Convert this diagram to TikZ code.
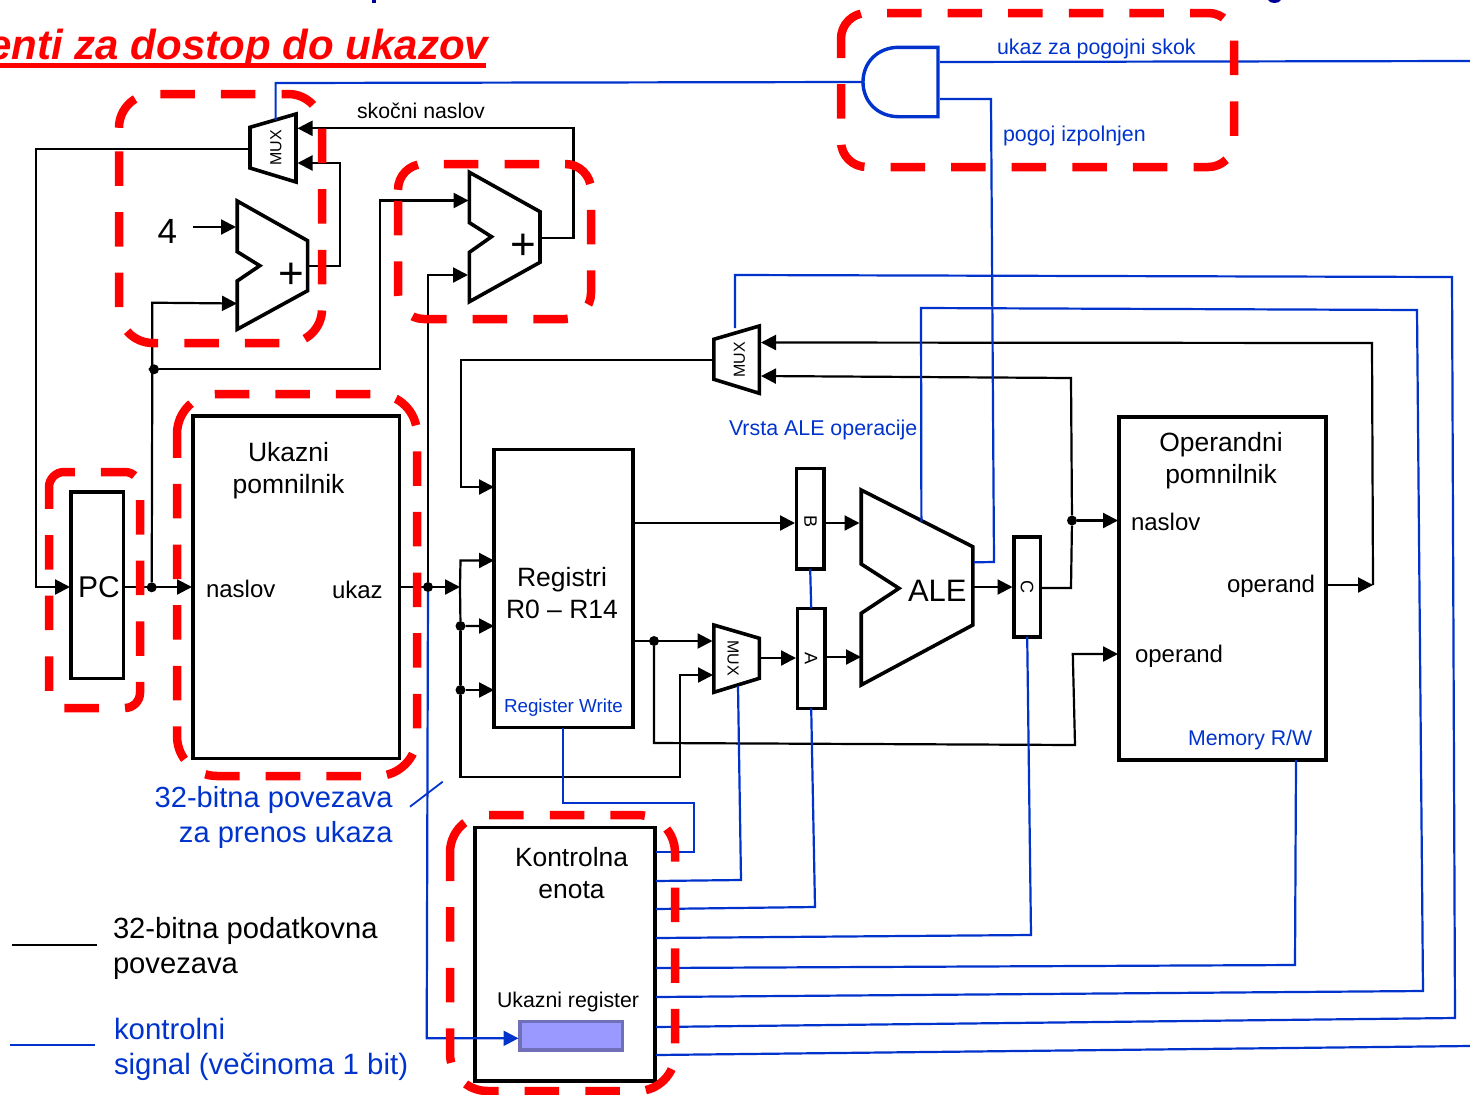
\documentclass[tikz,border=0pt]{standalone}
\usepackage{fontspec}
\setmainfont{Liberation Sans}
\usetikzlibrary{arrows.meta}
\definecolor{ctrl}{HTML}{0033CC}
\definecolor{regfill}{HTML}{9999FF}
\definecolor{regline}{HTML}{7070B8}
\definecolor{cuttop}{HTML}{000099}
\newcommand{\szz}[2]{\fontsize{#1}{#2}\selectfont}
\tikzset{
  x=1pt,y=-1pt,
  wire/.style={line width=2.2pt,black},
  awire/.style={wire,-{Triangle[length=15pt,width=15pt]}},
  sig/.style={line width=2.2pt,ctrl},
  asig/.style={sig,-{Triangle[length=15pt,width=15pt]}},
  shp/.style={line width=3.6pt,black,line join=miter},
  block/.style={draw=black,line width=3.6pt,inner sep=0pt,outer sep=0pt,rectangle},
  dot/.style={circle,fill=black,inner sep=0pt,minimum size=10pt},
  txt/.style={inner sep=0pt,outer sep=0pt},
  btxt/.style={txt,anchor=base west},
  ctxt/.style={txt,text=ctrl,anchor=base west},
  redbox/.style={draw=red,line width=8.5pt,dash pattern=on 34.5pt off 26.1pt},
}
\begin{document}
\begin{tikzpicture}
\useasboundingbox (0,0) rectangle (1470,1095);
\clip (0,0) rectangle (1470,1095);

% clipped remains of the title line above
\fill[cuttop] (372,0) rectangle (375.5,3);
\fill[cuttop] (1268,0) .. controls (1270,4) and (1279,4) .. (1281,0) -- cycle;

% title
\node[txt,anchor=base east,text=red] (title) at (488,59) {\szz{42}{48}\bfseries\itshape enti za dostop do ukazov};
\coordinate (ulL) at (0,65.5);
\coordinate (ulR) at (486,65.5);
\draw[red,line width=4.4pt] (ulL) -- (ulR);

% blocks
\node[block,minimum width=52.5pt,minimum height=186.6pt] (pc) at (97.3,585) {};
\node[block,minimum width=206.6pt,minimum height=342.3pt] (imem) at (296,587.2) {};
\node[block,minimum width=139.3pt,minimum height=278pt] (regs) at (563.4,588.3) {};
\node[block,minimum width=27.6pt,minimum height=100.7pt] (regB) at (810.2,518.7) {};
\node[block,minimum width=27.7pt,minimum height=100pt] (regA) at (811.2,658.3) {};
\node[block,minimum width=26.8pt,minimum height=100pt] (regC) at (1027.2,586.7) {};
\node[block,minimum width=207pt,minimum height=343pt] (dmem) at (1222.5,588.5) {};
\node[block,minimum width=180pt,minimum height=253.3pt] (ctrlu) at (565,954.3) {};
\node[draw=regline,fill=regfill,line width=3.4pt,inner sep=0pt,minimum width=102.7pt,minimum height=28.3pt] (ireg) at (571.3,1035.8) {};

% trapezoid shapes
\draw[shp] (250,127.3)--(296,114)--(296,182)--(250,168)--cycle;
\draw[shp] (713.8,339.3)--(759.3,326)--(759.3,393.3)--(713.8,379.3)--cycle;
\draw[shp] (713.8,625)--(759.4,638.3)--(759.4,678.3)--(713.8,692.3)--cycle;
\draw[shp] (237.2,201)--(307.6,240.7)--(307.6,290.7)--(237.2,329.3)--(237.2,281)--(259.8,265.7)--(237.2,251.7)--cycle;
\draw[shp] (469.4,172.3)--(540,211.7)--(540,262.3)--(469.4,301.7)--(469.4,252.3)--(491.5,236.7)--(469.4,222.7)--cycle;
\draw[shp] (861.2,490)--(972.8,546.7)--(972.8,625)--(861.2,685)--(861.2,613.3)--(899,588.3)--(861.2,564)--cycle;
% AND gate
\draw[line width=3.4pt,ctrl] (938,47.3) -- (899,47.3) .. controls (877,47.3) and (863,63) .. (863,82) .. controls (863,101) and (877,116.7) .. (899,116.7) -- (938,116.7) -- cycle;

% ports
\coordinate (four) at (192.5,227);
\coordinate (add1A) at (236,227);
\coordinate (add1B) at (237,303.5);
\coordinate (add1O) at (308,265.7);
\coordinate (add2A) at (468.6,200.5);
\coordinate (add2B) at (468,275);
\coordinate (add2O) at (541,237.7);
\coordinate (mux1O) at (250,149);
\coordinate (mux1T) at (275.6,120);
\coordinate (mux1A) at (297.5,128.3);
\coordinate (mux1B) at (297.5,163);
\coordinate (andIn) at (862,82);
\coordinate (andT) at (940,62);
\coordinate (andB) at (940,99);
\coordinate (farE) at (1470,61);
\coordinate (pcIn) at (70,587);
\coordinate (pcOut) at (124,587);
\coordinate (imIn) at (192,587);
\coordinate (imOut) at (400,587);
\coordinate (busEnd) at (460,587);
\coordinate (r1) at (494,487);
\coordinate (r2) at (494,560.5);
\coordinate (r3) at (494,626);
\coordinate (r4) at (494,690);
\coordinate (rB) at (633,523);
\coordinate (rA) at (633,641);
\coordinate (rW) at (563,728);
\coordinate (bIn) at (795,523);
\coordinate (bOut) at (824,523);
\coordinate (aleB) at (859.5,523);
\coordinate (aIn) at (796,658);
\coordinate (aOut) at (825,657);
\coordinate (aleA) at (861,657);
\coordinate (m2O) at (713,360);
\coordinate (m2T) at (735,328);
\coordinate (m2A) at (761,342.5);
\coordinate (m2B) at (761,376);
\coordinate (m3A) at (712.5,641);
\coordinate (m3B) at (713,675);
\coordinate (m3O) at (760,658);
\coordinate (m3S) at (738,686);
\coordinate (aleO) at (973,587);
\coordinate (aleTop) at (921.4,521.7);
\coordinate (aleF) at (974,562.3);
\coordinate (cIn) at (1012.5,587);
\coordinate (cOut) at (1041,588);
\coordinate (dA) at (1118,520.5);
\coordinate (dB) at (1118,654);
\coordinate (dO) at (1327,585);
\coordinate (dO2) at (1373,585);
\coordinate (dS) at (1296,760);
\coordinate (cS1) at (656,852);
\coordinate (cS2) at (656,881);
\coordinate (cS3) at (656,909);
\coordinate (cS4) at (656,938);
\coordinate (cS5) at (656,968);
\coordinate (cS6) at (656,997);
\coordinate (cS7) at (656,1027);
\coordinate (cS8) at (656,1055);
\coordinate (farE2) at (1470,1046);
\coordinate (iregIn) at (518.5,1038.3);
\coordinate (legK1) at (12,945);
\coordinate (legK2) at (97,945);
\coordinate (legB1) at (10,1045);
\coordinate (legB2) at (95,1045);
\coordinate (sl1) at (410,806.7);
\coordinate (sl2) at (442.7,781.7);

% junctions
\node[dot] (jPc) at (151.7,587.3) {};
\node[dot] (jAdd) at (154,369.3) {};
\node[dot] (jIm) at (428,587) {};
\node[dot] (jB1) at (460.5,626) {};
\node[dot] (jB2) at (460.5,690) {};
\node[dot] (jR) at (654,641) {};
\node[dot] (jD) at (1072,520.5) {};

% black connectors
\draw[awire] (mux1O) -- (35.6,149) -- (35.6,587) -- (pcIn);
\draw[awire] (pcOut) -- (imIn);
\draw[wire] (jPc) -- (152.3,369.3) -- (jAdd);
\draw[awire] (jAdd) -- (152.3,369.3) -- (152.3,302.7) -- (add1B);
\draw[awire] (jAdd) -- (379.6,369.3) -- (379.6,200.5) -- (add2A);
\draw[awire] (four) -- (add1A);
\draw[awire] (add1O) -- (340,265.7) -- (340,163) -- (mux1B);
\draw[awire] (add2O) -- (573.5,237.7) -- (573.5,128.3) -- (mux1A);
\draw[awire] (jIm) |- (add2B);
\draw[awire] (imOut) -- (busEnd);
\draw[awire] (busEnd) -- (460.5,560.5) -- (r2);
\draw[awire] (busEnd) -- (jB1) -- (r3);
\draw[awire] (jB1) -- (jB2) -- (r4);
\draw[awire] (jB2) -- (460.5,777) -- (680,777) -- (680,675) -- (m3B);
\draw[awire] (m2O) -- (461,360) -- (461,487) -- (r1);
\draw[awire] (rB) -- (bIn);
\draw[awire] (bOut) -- (aleB);
\draw[awire] (rA) -- (m3A);
\draw[awire] (m3O) -- (aIn);
\draw[awire] (aOut) -- (aleA);
\draw[awire] (aleO) -- (cIn);
\draw[wire] (cOut) -- (1071,588) -- (jD);
\draw[awire] (jD) -- (dA);
\draw[awire] (jD) -- (1071,378) -- (m2B);
\draw[awire] (dO) -- (dO2);
\draw[awire] (dO2) -- (1372,343) -- (m2A);
\draw[awire] (jR) -- (654,743) -- (1075,745) -- (1072.8,654) -- (dB);
\draw[wire] (legK1) -- (legK2);

% control signals
\draw[sig] (mux1T) -- (275.6,83) -- (andIn);
\draw[sig] (andT) -- (farE);
\draw[sig] (andB) -- (991,99) -- (994,562) -- (aleF);
\draw[sig] (m2T) -- (735,275) -- (1452,277) -- (1455,1018) -- (cS7);
\draw[sig] (aleTop) -- (921,308) -- (1417,310) -- (1423,991) -- (cS6);
\draw[sig] (regB.south) -- (regA.north);
\draw[sig] (rW) -- (563,803) -- (694.3,803) -- (694.3,852) -- (cS1);
\draw[sig] (m3S) -- (741,880) -- (cS2);
\draw[sig] (regA.south) -- (815,907) -- (cS3);
\draw[sig] (regC.south) -- (1031,935) -- (cS4);
\draw[sig] (dS) -- (1295,965) -- (cS5);
\draw[sig] (cS8) -- (farE2);
\draw[asig] (jIm) -- (426.7,1038.3) -- (iregIn);
\draw[sig,line width=1.8pt] (sl1) -- (sl2);
\draw[sig] (legB1) -- (legB2);

% texts
\node[btxt] (tFour) at (157.5,243.5) {\szz{35}{40}4};
\node[txt,anchor=center,font=\szz{44}{48}] (plus1) at (291,276) {+};
\node[txt,anchor=center,font=\szz{44}{48}] (plus2) at (523.5,247) {+};
\node[txt,rotate=90] (tm1) at (276,148) {\szz{16}{18}MUX};
\node[txt,rotate=90] (tm2) at (739.5,360) {\szz{16}{18}MUX};
\node[txt,rotate=-90] (tm3) at (733,658) {\szz{16}{18}MUX};
\node[txt,rotate=-90] (tB) at (810.5,521) {\szz{18}{20}B};
\node[txt,rotate=-90] (tA) at (811,658) {\szz{18}{20}A};
\node[txt,rotate=-90] (tC) at (1027,587) {\szz{18}{20}C};
\node[btxt] (tSk) at (357,118) {\szz{21.3}{25}skočni naslov};
\node[btxt] (tPC) at (78,597) {\szz{30}{36}PC};
\node[txt,align=center,font=\szz{26.5}{32}] (tIm) at (288.5,471) {Ukazni\\pomnilnik};
\node[btxt] (tN1) at (206,597) {\szz{24}{28}naslov};
\node[btxt] (tUk) at (332,598) {\szz{24}{28}ukaz};
\node[txt,align=center,font=\szz{26.5}{32}] (tReg) at (562,593) {Registri\\R0 – R14};
\node[ctxt] (tRW) at (504,712) {\szz{18.8}{22}Register Write};
\node[btxt] (tALE) at (908,601) {\szz{31}{36}ALE};
\node[ctxt] (tVr) at (729,435) {\szz{21.4}{25}Vrsta ALE operacije};
\node[txt,align=center,font=\szz{26.4}{32}] (tDm) at (1221,461) {Operandni\\pomnilnik};
\node[btxt] (tN2) at (1131,530) {\szz{24}{28}naslov};
\node[btxt] (tO1) at (1227,592) {\szz{24}{28}operand};
\node[btxt] (tO2) at (1135,662) {\szz{24}{28}operand};
\node[ctxt] (tMem) at (1188,745) {\szz{21.3}{25}Memory R/W};
\node[ctxt] (tSk2) at (997,54) {\szz{21.4}{25}ukaz za pogojni skok};
\node[ctxt] (tPg) at (1003,141) {\szz{21.4}{25}pogoj izpolnjen};
\node[txt,align=center,font=\szz{26.4}{32}] (tCu) at (571.5,873) {Kontrolna\\enota};
\node[btxt] (tUr) at (497,1007) {\szz{21.3}{25}Ukazni register};
\node[txt,align=right,anchor=east,text=ctrl,font=\szz{29.1}{35}] (tLb) at (392.5,817) {32-bitna povezava\\za prenos ukaza};
\node[txt,align=left,anchor=west,font=\szz{29.2}{35}] (tLk) at (113,948) {32-bitna podatkovna\\povezava};
\node[txt,align=left,anchor=west,text=ctrl,font=\szz{29.4}{35}] (tLc) at (114,1049) {kontrolni\\signal (večinoma 1 bit)};

% red dashed regions
\draw[redbox,rounded corners=33.8pt] (119,127.8) -- (119,94) -- (322,94) -- (322,343) -- (119,343) -- (119,127.8);
\draw[redbox,rounded corners=25.8pt] (398,189.8) -- (398,164) -- (591,164) -- (591,319) -- (398,319) -- (398,189.8);
\draw[redbox,rounded corners=25.7pt] (841,38.7) -- (841,13) -- (1234,13) -- (1234,167) -- (841,167) -- (841,38.7);
\draw[redbox,rounded corners=15.2pt] (49,487.2) -- (49,472) -- (140,472) -- (140,708) -- (49,708) -- (49,487.2);
\draw[redbox,rounded corners=40pt] (177,434) -- (177,394) -- (417,394) -- (417,776) -- (177,776) -- (177,434);
\draw[redbox,rounded corners=37.5pt] (450,852.5) -- (450,815) -- (675,815) -- (675,1091) -- (450,1091) -- (450,852.5);
\end{tikzpicture}
\end{document}
